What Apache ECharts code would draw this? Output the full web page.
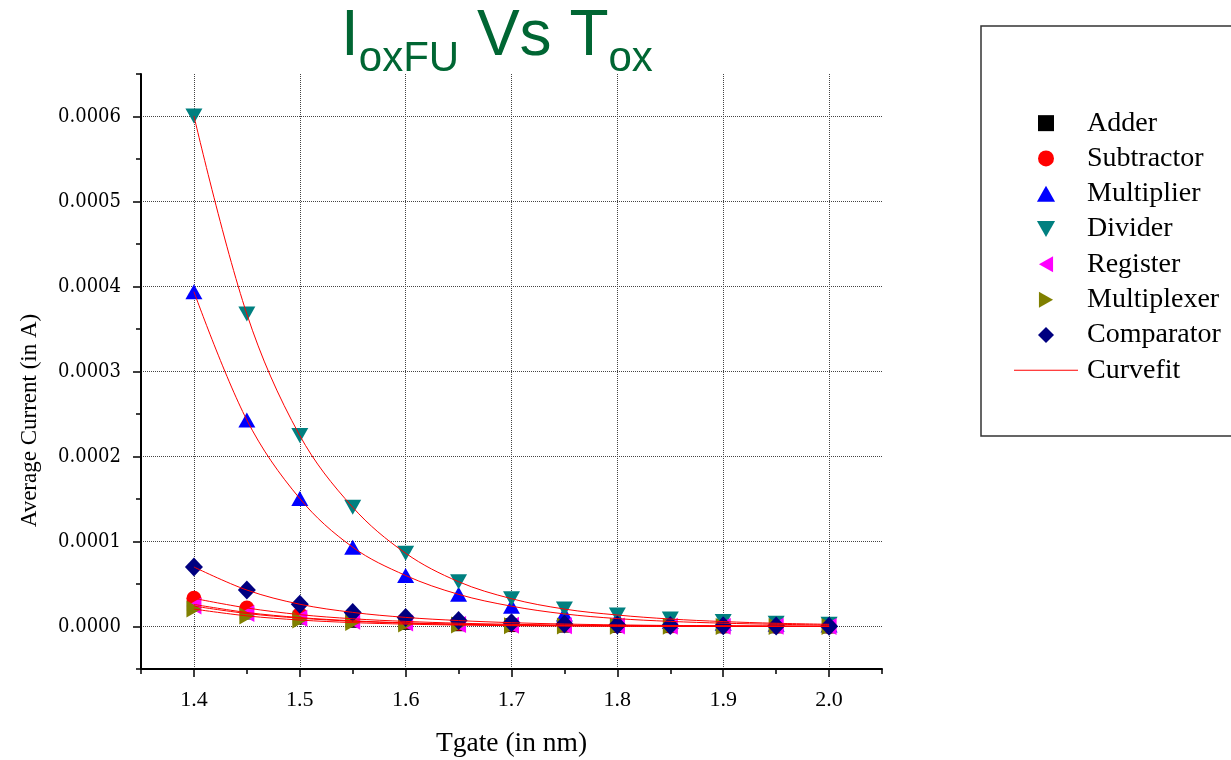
<!DOCTYPE html>
<html>
<head>
<meta charset="utf-8">
<title>IoxFU Vs Tox</title>
<script src="https://cdn.jsdelivr.net/npm/echarts@6/dist/echarts.min.js"></script>
<style>
  html, body { margin: 0; padding: 0; background: #ffffff; }
  #chart { width: 1231px; height: 760px; }
</style>
</head>
<body>
<div id="chart"></div>
<script>
// Gate oxide thickness (nm)
const tgate = [1.4, 1.45, 1.5, 1.55, 1.6, 1.65, 1.7, 1.75, 1.8, 1.85, 1.9, 1.95, 2.0];

// Average oxide tunnelling current per functional unit (A)
const adder       = [0.000026, 0.0000165, 0.0000105, 0.0000067, 0.0000043, 0.0000027, 0.0000017, 0.0000011, 0.0000007, 0.0000005, 0.0000003, 0.0000002, 0.0000001];
const subtractor  = [0.0000331, 0.0000218, 0.0000140, 0.0000091, 0.0000060, 0.0000039, 0.0000026, 0.0000017, 0.0000011, 0.0000007, 0.0000005, 0.0000003, 0.0000002];
const multiplier  = [0.0003939, 0.0002429, 0.0001505, 0.0000933, 0.0000600, 0.0000378, 0.0000239, 0.0000148, 0.0000093, 0.0000060, 0.0000039, 0.0000026, 0.0000017];
const divider     = [0.0006007, 0.0003676, 0.0002247, 0.0001403, 0.0000862, 0.0000527, 0.0000327, 0.0000205, 0.0000135, 0.0000088, 0.0000058, 0.0000038, 0.0000026];
const register    = [0.0000240, 0.0000153, 0.0000098, 0.0000062, 0.0000040, 0.0000025, 0.0000016, 0.0000010, 0.0000007, 0.0000004, 0.0000003, 0.0000002, 0.0000001];
const multiplexer = [0.0000205, 0.0000125, 0.0000076, 0.0000046, 0.0000028, 0.0000017, 0.0000010, 0.0000006, 0.0000004, 0.0000002, 0.0000001, 0.0000001, 0.0000000];
const comparator  = [0.0000700, 0.0000429, 0.0000262, 0.0000166, 0.0000107, 0.0000070, 0.0000045, 0.0000029, 0.0000019, 0.0000012, 0.0000008, 0.0000005, 0.0000003];

// Tick labels
const xTickLabels = ['1.4', '1.5', '1.6', '1.7', '1.8', '1.9', '2.0'];
const yTickLabels = ['0.0000', '0.0001', '0.0002', '0.0003', '0.0004', '0.0005', '0.0006'];

// Marker styles; legend icons are path shapes so they keep their proportions
const units = [
  { name: 'Adder',       values: adder,       symbol: 'rect',     size: 14,       rotate: 0,   color: '#000000', icon: 'path://M0,0H14V14H0Z' },
  { name: 'Subtractor',  values: subtractor,  symbol: 'circle',   size: 15,       rotate: 0,   color: '#ff0000', icon: 'circle' },
  { name: 'Multiplier',  values: multiplier,  symbol: 'triangle', size: [17, 15], rotate: 0,   color: '#0000ff', icon: 'path://M8.5,0L17,15H0Z' },
  { name: 'Divider',     values: divider,     symbol: 'triangle', size: [17, 15], rotate: 180, color: '#008080', icon: 'path://M0,0H17L8.5,15Z' },
  { name: 'Register',    values: register,    symbol: 'triangle', size: [17, 15], rotate: 90,  color: '#ff00ff', icon: 'path://M15,0V17L0,8.5Z' },
  { name: 'Multiplexer', values: multiplexer, symbol: 'triangle', size: [17, 15], rotate: -90, color: '#808000', icon: 'path://M0,0L15,8.5L0,17Z' },
  { name: 'Comparator',  values: comparator,  symbol: 'diamond',  size: [18, 19], rotate: 0,   color: '#000080', icon: 'path://M9,0L18,9L9,18L0,9Z' }
];

const pairs = (vals) => tgate.map((x, i) => [x, vals[i]]);
const pickLabel = (list, eps) => (v) => list.find((s) => Math.abs(parseFloat(s) - v) < eps) || '';

const serif = 'Liberation Serif';
const condensedSerif = "'DejaVu Serif Condensed', 'Liberation Sans Narrow', 'Liberation Serif'";
const green = '#006633';
const gridDots = '#444444';

const markerSeries = units.map((u) => ({
  name: u.name,
  type: 'scatter',
  data: pairs(u.values),
  symbol: u.symbol,
  symbolSize: u.size,
  symbolRotate: u.rotate,
  itemStyle: { color: u.color, opacity: 1 },
  emphasis: { disabled: true }
}));

const fitSeries = units.map((u) => ({
  name: 'Curvefit',
  type: 'line',
  data: pairs(u.values),
  symbol: 'none',
  smooth: 0.35,
  lineStyle: { color: '#ff0000', width: 1 },
  itemStyle: { color: '#ff0000' },
  emphasis: { disabled: true }
}));

const chart = echarts.init(document.getElementById('chart'), null, { renderer: 'canvas' });

chart.setOption({
  animation: false,
  backgroundColor: '#ffffff',
  title: {
    text: '{m|I}{s|oxFU}{m| Vs T}{s|ox}',
    left: 341,
    top: 2,
    padding: 0,
    textStyle: {
      fontWeight: 'normal',
      rich: {
        m: { fontSize: 64, fontFamily: 'Liberation Sans', fontWeight: 'normal', color: green, lineHeight: 70 },
        s: { fontSize: 42, fontFamily: 'Liberation Sans', fontWeight: 'normal', color: green, lineHeight: 42, padding: [44, 0, 0, 0] }
      }
    }
  },
  legend: {
    orient: 'vertical',
    left: 981,
    top: 26,
    padding: [79.5, 30, 48, 33],
    itemGap: 0,
    itemWidth: 64,
    itemHeight: 16,
    symbolKeepAspect: true,
    borderColor: '#333333',
    borderWidth: 1.5,
    selectedMode: false,
    textStyle: { fontFamily: serif, fontSize: 28, color: '#000', lineHeight: 35.3, padding: [0, 0, 0, 4] },
    data: units.map((u) => ({ name: u.name, icon: u.icon }))
      .concat([{ name: 'Curvefit', icon: 'path://M0,0H64V1.2H0Z' }])
  },
  grid: { left: 141, right: 349, top: 74, bottom: 91, containLabel: false, outerBoundsMode: 'none' },
  xAxis: [
    {
      type: 'value', position: 'bottom', min: 1.35, max: 2.05, interval: 0.05,
      name: 'Tgate (in nm)', nameLocation: 'middle', nameGap: 61,
      nameTextStyle: { fontFamily: serif, fontSize: 27.5, color: '#000' },
      axisLine: { show: true, onZero: false, lineStyle: { color: '#000', width: 2 } },
      axisTick: { show: false },
      axisLabel: { formatter: pickLabel(xTickLabels, 1e-6), margin: 20, color: '#000', fontFamily: serif, fontSize: 22 },
      splitLine: { show: true, lineStyle: { color: ['rgba(0,0,0,0)', gridDots], type: 'dotted', width: 1 } }
    },
    {
      type: 'value', position: 'bottom', offset: 0, min: 1.35, max: 2.05, interval: 0.1,
      axisLine: { show: false, onZero: false },
      axisTick: { show: true, inside: false, length: 5, lineStyle: { color: '#000', width: 1.5 } },
      minorTick: { show: true, splitNumber: 2, length: 8, lineStyle: { color: '#000', width: 1.5 } },
      axisLabel: { show: false },
      splitLine: { show: false }
    }
  ],
  yAxis: [
    {
      type: 'value', position: 'left', min: -0.00005, max: 0.00065, interval: 0.00005,
      name: 'Average Current (in A)', nameLocation: 'middle', nameGap: 100,
      nameTextStyle: { fontFamily: serif, fontSize: 23, color: '#000', padding: [0, 98, 0, 0] },
      axisLine: { show: true, onZero: false, lineStyle: { color: '#000', width: 2 } },
      axisTick: { show: false },
      axisLabel: { formatter: pickLabel(yTickLabels, 1e-9), margin: 20, color: '#000', fontFamily: condensedSerif, fontSize: 20 },
      splitLine: { show: true, lineStyle: { color: ['rgba(0,0,0,0)', gridDots], type: 'dotted', width: 1 } }
    },
    {
      type: 'value', position: 'left', offset: 0, min: -0.00005, max: 0.00065, interval: 0.0001,
      axisLine: { show: false, onZero: false },
      axisTick: { show: true, inside: false, length: 5, lineStyle: { color: '#000', width: 1.5 } },
      minorTick: { show: true, splitNumber: 2, length: 8, lineStyle: { color: '#000', width: 1.5 } },
      axisLabel: { show: false },
      splitLine: { show: false }
    }
  ],
  series: markerSeries.concat(fitSeries)
});
</script>
</body>
</html>
